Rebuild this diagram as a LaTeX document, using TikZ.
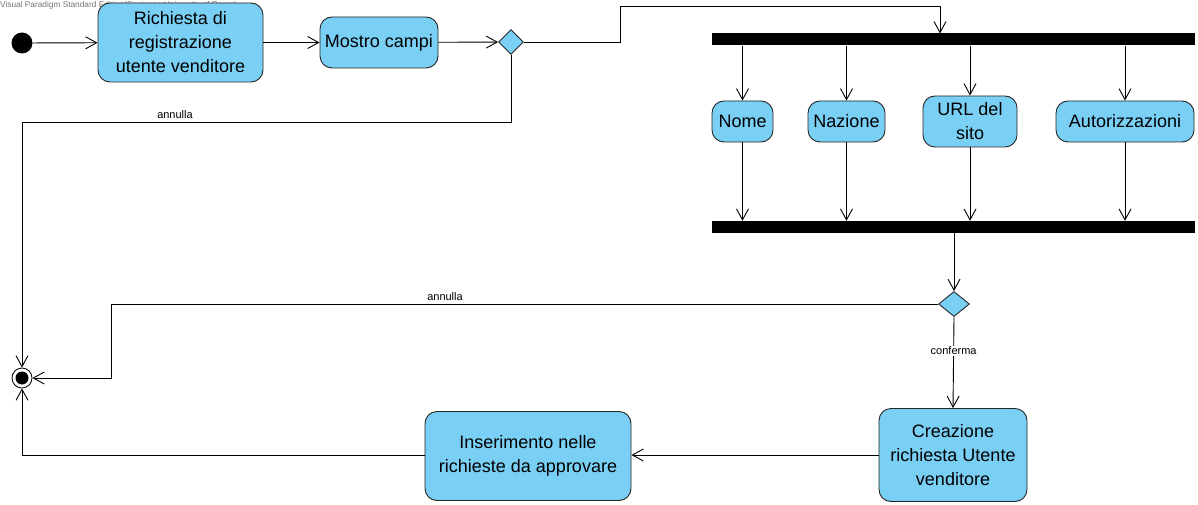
\documentclass[tikz,border=0pt]{standalone}
\usepackage{fontspec}
\setmainfont{Liberation Sans}
\usetikzlibrary{arrows.meta,shapes.geometric}
\definecolor{actblue}{RGB}{122,207,245}
\tikzset{
  act/.style={draw=black!85, fill=actblue, rounded corners=12pt, line width=0.9pt, align=center, inner sep=2pt, font=\fontsize{18}{24}\selectfont},
  dec/.style={draw=black!85, fill=actblue, diamond, inner sep=0pt, line width=0.9pt},
  bar/.style={fill=black, draw=none, inner sep=0pt, minimum width=483pt, minimum height=12pt},
  arr/.style={line width=0.9pt, -{Straight Barb[length=11pt,width=12pt,line width=0.9pt]}},
  ln/.style={line width=0.9pt},
  lbl/.style={font=\fontsize{11}{13}\selectfont, inner sep=1pt},
}
\begin{document}
\begin{tikzpicture}[x=1pt,y=-1pt]
\useasboundingbox (0,0) rectangle (1198,505);
\node[anchor=north west, inner sep=0pt, text=black!55, font=\fontsize{8.3}{9}\selectfont] (wm) at (0,1) {Visual Paradigm Standard Edition(Sapienza University of Rome)};

\node[circle, fill=black, minimum size=21pt, inner sep=0pt] (init) at (22,43) {};
\node[act, minimum width=165pt, minimum height=79pt] (rich) at (180.5,42.5) {Richiesta di\\registrazione\\utente venditore};
\node[act, minimum width=118pt, minimum height=51pt] (mostro) at (379,42.5) {Mostro campi};
\node[dec, minimum width=25pt, minimum height=25pt] (d1) at (511,42) {};

\node[bar] (fork) at (953.5,39.5) {};
\node[bar] (join) at (953.5,227) {};

\node[act, minimum width=61pt, minimum height=41pt] (nome) at (742.5,121.5) {Nome};
\node[act, minimum width=77pt, minimum height=41pt] (naz) at (846.5,121.5) {Nazione};
\node[act, minimum width=94pt, minimum height=51pt] (url) at (970,121.5) {URL del\\sito};
\node[act, minimum width=138pt, minimum height=41pt] (aut) at (1125,121.5) {Autorizzazioni};

\node[dec, minimum width=31pt, minimum height=25pt] (d2) at (954,304) {};
\node[act, minimum width=148pt, minimum height=93pt] (crea) at (953,455) {Creazione\\richiesta Utente\\venditore};
\node[act, minimum width=206pt, minimum height=89pt] (ins) at (528,456) {Inserimento nelle\\richieste da approvare};

\node[circle, draw=black, line width=0.8pt, minimum size=20pt, inner sep=0pt] (final) at (22,378) {};
\node[circle, fill=black, minimum size=13pt, inner sep=0pt] (finalin) at (final.center) {};

\coordinate (k1) at (620,6);
\coordinate (forkin) at (940,33.5);
\coordinate (k2) at (111,304);
\coordinate (k3) at (22,122);

\draw[arr] (init) -- (rich);
\draw[arr] (rich) -- (mostro);
\draw[arr] (mostro) -- (d1);
\draw[arr] (d1.east) -| (k1) -| (forkin);

\foreach \n in {nome,naz,url,aut}{
  \draw[arr] (\n.north |- fork.south) -- (\n.north);
  \draw[arr] (\n.south) -- (\n.south |- join.north);
}
\draw[arr] (d2.north |- join.south) -- (d2.north);

\draw[arr] (d1.south) |- (k3) -- (final.north);
\node[lbl] (l1) at (175,115) {annulla};

\draw[arr] (d2.west) -- (k2) |- (final.east);
\node[lbl] (l2) at (445,297) {annulla};

\draw[arr] (d2.south) -- (crea.north) node[pos=0.37, lbl, fill=white] (l3) {conferma};

\draw[arr] (crea.west |- 0,455) -- (ins.east |- 0,455);
\draw[arr] (ins.west |- 0,455) -| (final.south);
\end{tikzpicture}
\end{document}
